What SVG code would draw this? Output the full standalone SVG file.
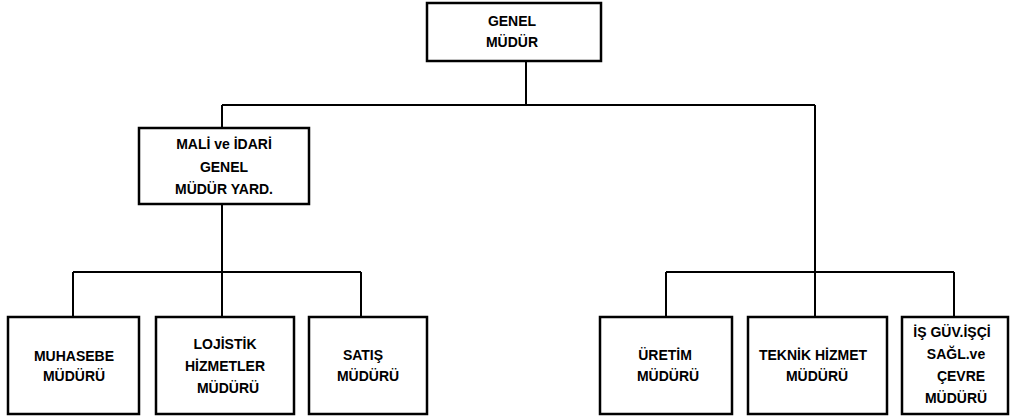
<svg xmlns="http://www.w3.org/2000/svg" width="1010" height="416" viewBox="0 0 1010 416">
<style>
.box{fill:#fff;stroke:#000;stroke-width:2.5}
.ln{fill:none;stroke:#000;stroke-width:2}
text{font-family:"Liberation Sans",Arial,sans-serif;font-weight:bold;font-size:14px;fill:#000;text-anchor:middle}
</style>
<rect width="1010" height="416" fill="#fff"/>
<g id="connectors" class="ln">
<path d="M526 61V105M222 105H815M222 105V128M815 105V272M222 204V272"/>
<path d="M73 272H361M73 272V317M222 272V317M361 272V317"/>
<path d="M666 272H954M666 272V317M815 272V317M954 272V317"/>
</g>
<g id="genel-mudur">
<rect class="box" x="427" y="3" width="174" height="58"/>
<text x="512" y="26">GENEL</text>
<text x="512" y="47">MÜDÜR</text>
</g>
<g id="mali-idari">
<rect class="box" x="139" y="128" width="170" height="76"/>
<text x="224" y="149">MALİ ve İDARİ</text>
<text x="224" y="172">GENEL</text>
<text x="224" y="194">MÜDÜR YARD.</text>
</g>
<g id="muhasebe">
<rect class="box" x="8" y="317" width="131" height="97"/>
<text x="74" y="361">MUHASEBE</text>
<text x="74" y="381">MÜDÜRÜ</text>
</g>
<g id="lojistik">
<rect class="box" x="156" y="317" width="138" height="97"/>
<text x="225" y="349">LOJİSTİK</text>
<text x="225" y="371">HİZMETLER</text>
<text x="228" y="393">MÜDÜRÜ</text>
</g>
<g id="satis">
<rect class="box" x="309" y="317" width="118" height="97"/>
<text x="363" y="360">SATIŞ</text>
<text x="368" y="381">MÜDÜRÜ</text>
</g>
<g id="uretim">
<rect class="box" x="600" y="317" width="132" height="97"/>
<text x="665" y="360">ÜRETİM</text>
<text x="668" y="381">MÜDÜRÜ</text>
</g>
<g id="teknik">
<rect class="box" x="748" y="317" width="139" height="97"/>
<text x="813" y="360">TEKNİK HİZMET</text>
<text x="817" y="381">MÜDÜRÜ</text>
</g>
<g id="is-guvenligi">
<rect class="box" x="902" y="317" width="106" height="97"/>
<text x="952" y="337">İŞ GÜV.İŞÇİ</text>
<text x="956" y="359">SAĞL.ve</text>
<text x="961" y="381">ÇEVRE</text>
<text x="956" y="403">MÜDÜRÜ</text>
</g>
</svg>
